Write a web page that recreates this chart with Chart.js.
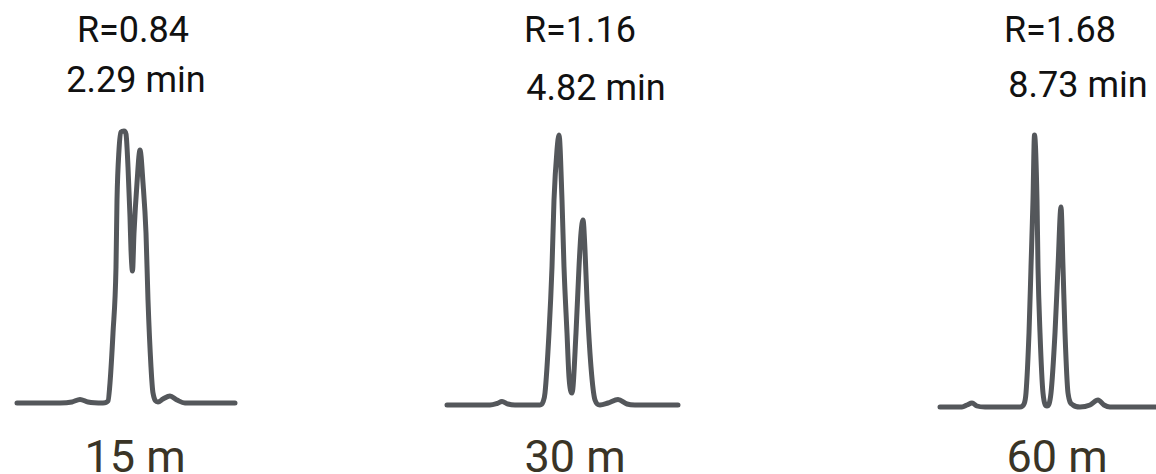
<!DOCTYPE html>
<html>
<head>
<meta charset="utf-8">
<script src="https://cdn.jsdelivr.net/npm/chart.js@4/dist/chart.umd.min.js"></script>
<style>
  html, body { margin: 0; padding: 0; background: #fff; overflow: hidden; }
  body { width: 1156px; height: 474px; position: relative; font-family: Roboto, sans-serif; }
  canvas { position: absolute; }
  .lbl { position: absolute; white-space: nowrap; line-height: 1; transform: translateX(-50%); }
  .top { font-size: 36px; color: #111; }
  .bottom { font-size: 45px; color: #3a3426; }
</style>
</head>
<body>
<canvas id="chart1" width="234" height="298"></canvas>
<canvas id="chart2" width="247" height="298"></canvas>
<canvas id="chart3" width="236" height="298"></canvas>

<script>
// column lengths, resolution and run time for each chromatogram
var columns = ['15 m', '30 m', '60 m']
var resolutions = ['R=0.84', 'R=1.16', 'R=1.68']
var runTimes = ['2.29 min', '4.82 min', '8.73 min']

// 15 m column: two peaks barely separated
var t15 = [0, 43, 55, 63, 71, 86, 91, 93, 96, 99, 100, 102, 104, 107, 109, 111, 113, 114, 115.5, 117, 120, 123, 126, 129, 131, 134, 136, 141, 146, 153, 160, 168, 218]
var s15 = [0, 0, 1, 3.5, 1, 0, 2, 20, 70, 136, 203, 253, 271, 272, 269, 236, 186, 153, 132, 170, 220, 253, 220, 170, 103, 36, 10, 1, 4, 7, 3, 0, 0]

// 30 m column
var t30 = [0, 43, 50, 55, 61, 68, 93, 96, 98, 102, 105, 107, 110, 112, 115, 117, 120, 122, 125, 129, 132, 134, 136, 138, 140, 144, 148, 153, 161, 171, 180, 188, 231]
var s30 = [0, 0, 1.5, 3.5, 1, 0, 0, 3, 12, 72, 138, 205, 255, 270, 205, 138, 72, 28, 12, 72, 138, 172, 185, 155, 105, 38, 5, 0, 2, 5.5, 1, 0, 0]

// 60 m column: baseline separation
var t60 = [0, 22, 27, 32, 37, 45, 80, 84, 86, 89, 91, 93, 94.5, 97, 98, 100, 103, 107, 111, 115, 118, 121, 123, 125, 128, 133, 140, 150, 158, 164, 170, 220]
var s60 = [0, 0, 2, 4, 1, 0, 0, 3, 14, 74, 140, 207, 272, 207, 140, 74, 14, 1, 14, 74, 140, 200, 140, 74, 14, 2, 0, 2, 7, 2, 0, 0]

var traceColor = '#54575b'

// where each trace starts (left end) and where its baseline sits on the page
var panels = [
  { id: 'chart1', t: t15, s: s15, left: 17, base: 403, center: 135, topC: [133, 136], line2: 92 },
  { id: 'chart2', t: t30, s: s30, left: 447, base: 405, center: 575, topC: [580, 596], line2: 100 },
  { id: 'chart3', t: t60, s: s60, left: 940, base: 407, center: 1057, topC: [1060, 1078], line2: 97 }
]

var pad = 8
var yMax = 290

panels.forEach(function (p, i) {
  var xMax = p.t[p.t.length - 1]
  var cv = document.getElementById(p.id)
  cv.style.left = (p.left - pad) + 'px'
  cv.style.top = (p.base - yMax) + 'px'

  var pts = p.t.map(function (t, k) { return { x: t, y: p.s[k] } })

  new Chart(cv.getContext('2d'), {
    type: 'line',
    data: {
      datasets: [{
        data: pts,
        borderColor: traceColor,
        borderWidth: 5,
        borderCapStyle: 'round',
        borderJoinStyle: 'round',
        cubicInterpolationMode: 'monotone',
        pointRadius: 0,
        fill: false
      }]
    },
    options: {
      responsive: false,
      animation: false,
      events: [],
      layout: { padding: 0 },
      plugins: { legend: { display: false }, tooltip: { enabled: false } },
      scales: {
        x: { type: 'linear', min: -pad, max: xMax + pad, display: false },
        y: { min: -pad, max: yMax, display: false }
      }
    }
  })

  // labels above and below the trace
  var r = document.createElement('div')
  r.className = 'lbl top'
  r.textContent = resolutions[i]
  r.style.left = p.topC[0] + 'px'
  r.style.top = (42 - 30.3) + 'px'
  document.body.appendChild(r)

  var m = document.createElement('div')
  m.className = 'lbl top'
  m.textContent = runTimes[i]
  m.style.left = p.topC[1] + 'px'
  m.style.top = (p.line2 - 30.3) + 'px'
  document.body.appendChild(m)

  var c = document.createElement('div')
  c.className = 'lbl bottom'
  c.textContent = columns[i]
  c.style.left = p.center + 'px'
  c.style.top = (472 - 37.9) + 'px'
  document.body.appendChild(c)
})
</script>
</body>
</html>
